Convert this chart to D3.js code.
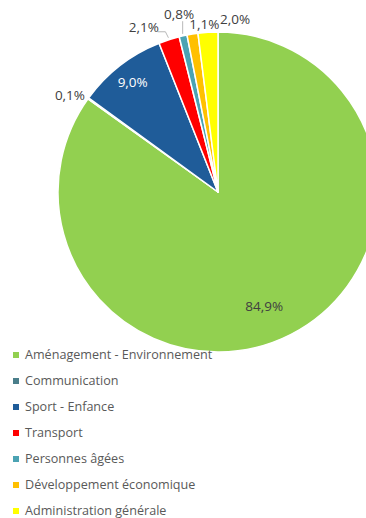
<!DOCTYPE html>
<html>
<head>
<meta charset="utf-8">
<script src="https://cdn.jsdelivr.net/npm/d3@7"></script>
<style>
  body { margin: 0; background: #fff; }
  text { font-family: 'Open Sans', sans-serif; }
</style>
</head>
<body>
<svg id="chart"></svg>
<script>
const categories = ['Aménagement - Environnement', 'Communication', 'Sport - Enfance', 'Transport',
  'Personnes âgées', 'Développement économique', 'Administration générale'];
const values = [84.9, 0.1, 9.0, 2.1, 0.8, 1.1, 2.0];
const colors = ['#92D050', '#4A7E8A', '#1F5C99', '#FF0000', '#4BA3B3', '#FFC000', '#FFFF00'];

const width = 366;
const height = 518;
const cx = 218;
const cy = 192;
const radius = 160;

// label placement (where excel put them), dx/dy relative to outer point
const labelLayout = [
  { inside: true, r: 0.77, dx: -10, dy: 5, color: '#404040' },
  { inside: false, dx: -7, dy: 5 },
  { inside: true, r: 0.87, dx: 0, dy: 0, color: '#ffffff' },
  { inside: false, dx: -21, dy: 1, line: true },
  { inside: false, dx: -1, dy: -8, line: true },
  { inside: false, dx: 14, dy: 4 },
  { inside: false, dx: 28, dy: 1 }
];

const fmt = v => d3.format('.1f')(v).replace('.', ',') + '%';

const svg = d3.select('#chart').attr('width', width).attr('height', height);
const body = svg.append('g').attr('transform', 'translate(' + cx + ',' + cy + ')');

const pie = d3.pie().sort(null).value(d => d);
const arcs = pie(values);
const arc = d3.arc().innerRadius(0).outerRadius(radius);

body.selectAll('.slice')
  .data(arcs)
  .enter()
  .append('path')
  .attr('d', arc)
  .attr('fill', (d, i) => colors[i])
  .attr('stroke', '#fff')
  .attr('stroke-width', 1.5)
  .attr('stroke-linejoin', 'round');

const labels = body.append('g');
arcs.forEach((d, i) => {
  const lay = labelLayout[i];
  const mid = (d.startAngle + d.endAngle) / 2;
  if (lay.inside) {
    const rr = radius * lay.r;
    labels.append('text')
      .attr('x', Math.sin(mid) * rr + lay.dx)
      .attr('y', -Math.cos(mid) * rr + lay.dy)
      .attr('text-anchor', 'middle')
      .attr('dy', '.35em')
      .attr('font-size', 13.5)
      .attr('fill', lay.color)
      .text(fmt(values[i]));
  } else {
    const ro = radius + 14;
    const x = Math.sin(mid) * ro + lay.dx;
    const y = -Math.cos(mid) * ro + lay.dy;
    if (lay.line) {
      const ex = Math.sin(mid) * (radius + 2);
      const ey = -Math.cos(mid) * (radius + 2);
      labels.append('path')
        .attr('d', i === 4
          ? `M${ex},${ey}V${y + 7}`
          : `M${ex},${ey}L${ex - 3},${ey - 6}L${x + 14},${ey - 6}`)
        .attr('fill', 'none')
        .attr('stroke', '#a6a6a6')
        .attr('stroke-width', 0.8);
    }
    labels.append('text')
      .attr('x', x)
      .attr('y', y)
      .attr('text-anchor', 'middle')
      .attr('dy', '.35em')
      .attr('font-size', 13.5)
      .attr('fill', '#404040')
      .text(fmt(values[i]));
  }
});

const legendY = d3.scalePoint().domain(categories).range([355, 511]);
const legend = svg.append('g');
legend.selectAll('rect')
  .data(categories)
  .enter()
  .append('rect')
  .attr('x', 13)
  .attr('y', d => legendY(d) - 3)
  .attr('width', 6)
  .attr('height', 6)
  .attr('fill', (d, i) => colors[i]);
legend.selectAll('text')
  .data(categories)
  .enter()
  .append('text')
  .attr('x', 25)
  .attr('y', d => legendY(d))
  .attr('dy', '.35em')
  .attr('font-size', 12.6)
  .attr('fill', '#595959')
  .text(d => d);
</script>
</body>
</html>
